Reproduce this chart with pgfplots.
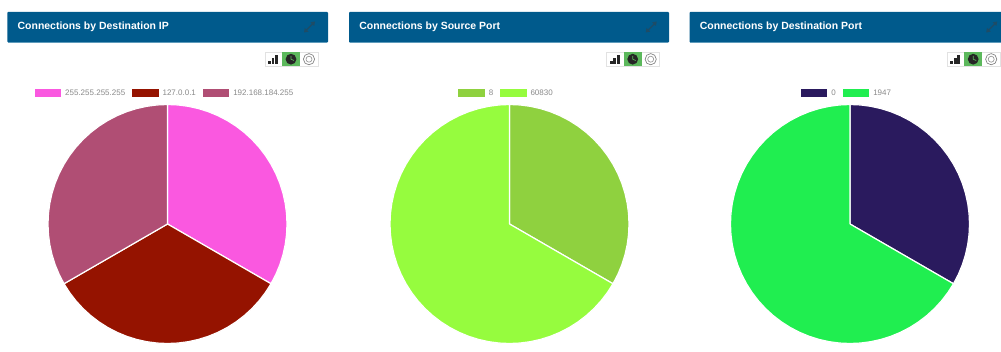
\documentclass[border=0pt]{standalone}
\usepackage{fontspec}
\setmainfont{Liberation Sans}
\usepackage{pgfplots}
\usepackage{pgfplotstable}
\pgfplotsset{compat=1.18}

\definecolor{header}{HTML}{005A8C}
\definecolor{headeredge}{HTML}{5E9BBB}
\definecolor{expandicon}{HTML}{1E4C66}
\definecolor{legendtext}{HTML}{8A8A8A}
\definecolor{btnborder}{HTML}{E2E2E2}
\definecolor{btngreen}{HTML}{5CB85C}
\definecolor{pink}{HTML}{FA58E0}
\definecolor{brick}{HTML}{951300}
\definecolor{mauve}{HTML}{B04E74}
\definecolor{leaf}{HTML}{8FD13F}
\definecolor{lime}{HTML}{96FC3E}
\definecolor{navy}{HTML}{2A1A5E}
\definecolor{neon}{HTML}{20EE50}

% Pie outlines in polar form: angle in degrees, radius as a fraction of the pie
\pgfplotstableread[row sep=\\]{
a r\\ 0 0\\ 90 1\\ 85 1\\ 80 1\\ 75 1\\ 70 1\\ 65 1\\ 60 1\\ 55 1\\ 50 1\\ 45 1\\ 40 1\\ 35 1\\ 30 1\\ 25 1\\ 20 1\\ 15 1\\ 10 1\\ 5 1\\ 0 1\\ -5 1\\ -10 1\\ -15 1\\ -20 1\\ -25 1\\ -30 1\\ 0 0\\
}\firstthird
\pgfplotstableread[row sep=\\]{
a r\\ 0 0\\ -30 1\\ -35 1\\ -40 1\\ -45 1\\ -50 1\\ -55 1\\ -60 1\\ -65 1\\ -70 1\\ -75 1\\ -80 1\\ -85 1\\ -90 1\\ -95 1\\ -100 1\\ -105 1\\ -110 1\\ -115 1\\ -120 1\\ -125 1\\ -130 1\\ -135 1\\ -140 1\\ -145 1\\ -150 1\\ 0 0\\
}\secondthird
\pgfplotstableread[row sep=\\]{
a r\\ 0 0\\ -150 1\\ -155 1\\ -160 1\\ -165 1\\ -170 1\\ -175 1\\ -180 1\\ -185 1\\ -190 1\\ -195 1\\ -200 1\\ -205 1\\ -210 1\\ -215 1\\ -220 1\\ -225 1\\ -230 1\\ -235 1\\ -240 1\\ -245 1\\ -250 1\\ -255 1\\ -260 1\\ -265 1\\ -270 1\\ 0 0\\
}\lastthird
\pgfplotstableread[row sep=\\]{
a r\\ 0 0\\ -30 1\\ -35 1\\ -40 1\\ -45 1\\ -50 1\\ -55 1\\ -60 1\\ -65 1\\ -70 1\\ -75 1\\ -80 1\\ -85 1\\ -90 1\\ -95 1\\ -100 1\\ -105 1\\ -110 1\\ -115 1\\ -120 1\\ -125 1\\ -130 1\\ -135 1\\ -140 1\\ -145 1\\ -150 1\\ -155 1\\ -160 1\\ -165 1\\ -170 1\\ -175 1\\ -180 1\\ -185 1\\ -190 1\\ -195 1\\ -200 1\\ -205 1\\ -210 1\\ -215 1\\ -220 1\\ -225 1\\ -230 1\\ -235 1\\ -240 1\\ -245 1\\ -250 1\\ -255 1\\ -260 1\\ -265 1\\ -270 1\\ 0 0\\
}\twothirds

\pgfplotsset{
  pie/.style={
    anchor=center, width=179.25pt, height=179.25pt, scale only axis,
    xmin=-1, xmax=1, ymin=-1, ymax=1, hide axis, clip=false,
    data cs=polar,
    legend columns=-1,
    legend cell align=left,
    legend style={
      draw=none, fill=none, inner sep=0pt, outer sep=0pt, anchor=center,
      font=\fontsize{6pt}{7pt}\selectfont\color{legendtext},
      /tikz/every even column/.append style={column sep=5pt},
      /tikz/every odd column/.append style={column sep=3pt},
      nodes={inner sep=0pt, outer sep=0pt},
    },
    legend image code/.code={\fill[##1,draw=none] (0pt,-3pt) rectangle (20pt,3pt);},
  },
  slice/.style={fill=#1, draw=white, line width=0.9pt, line join=round, mark=none},
}

% Panel header with its title, expand arrow and chart-type buttons
\newcommand{\panel}[3]{%
  \begin{scope}[xshift=#1*0.75pt]
    \fill[header, rounded corners=0.8pt] (7.3,11.8) rectangle (#2,42.6);
    \draw[headeredge, line width=0.5pt] (8,42.5) -- (#2-0.7,42.5);
    \node[anchor=base west, inner sep=0pt, white, font=\fontsize{7.85pt}{10pt}\selectfont\bfseries] at (17.4,29.6) {#3};
    \draw[expandicon, line width=0.9pt] (305,31.5) -- (314,22.5);
    \fill[expandicon] (315,21.5) -- (310.5,22.3) -- (314.2,26) -- cycle;
    \fill[expandicon] (304,32.5) -- (308.5,31.7) -- (304.8,28) -- cycle;
    % button group
    \fill[white] (265,52.5) rectangle (318,66);
    \draw[btnborder, line width=0.4pt] (265,52.5) rectangle (318,66);
    \fill[black!85] (268,60.8) rectangle (270.8,64.3);
    \fill[black!85] (271.6,57.8) rectangle (274.4,64.3);
    \fill[black!85] (275,54.8) rectangle (278,64.3);
    \fill[btngreen] (282,52.5) rectangle (300,66);
    \fill[black!85] (291,59.2) circle [radius=5.4];
    \draw[btngreen, line width=0.5pt] (291,55.8) -- (291,59.2) -- (294,60.5);
    \draw[black!50, line width=0.5pt] (309,59.2) circle [radius=5.6];
    \draw[black!40, line width=0.5pt] (309,59.2) circle [radius=3];
  \end{scope}%
}

\begin{document}
\begin{tikzpicture}[x=0.75pt, y=-0.75pt]
  \useasboundingbox (0,0) rectangle (1001,352);
  \fill[white] (0,0) rectangle (1001,352);
  \clip (0,0) rectangle (1001,352);

  \panel{0}{328}{Connections by Destination IP}
  \panel{341.7}{327.3}{Connections by Source Port}
  \panel{682.2}{330}{Connections by Destination Port}

  \begin{axis}[pie, at={(125.625pt,-168pt)},
      legend style={at={(0.485,1.047)}}]
    \addplot[slice=pink] table[x=a,y=r] {\firstthird};
    \addlegendentry{255.255.255.255}
    \addplot[slice=brick] table[x=a,y=r] {\secondthird};
    \addlegendentry{127.0.0.1}
    \addplot[slice=mauve] table[x=a,y=r] {\lastthird};
    \addlegendentry{192.168.184.255}
  \end{axis}

  \begin{axis}[pie, at={(382.125pt,-168pt)},
      legend style={at={(0.483,1.047)}}]
    \addplot[slice=leaf] table[x=a,y=r] {\firstthird};
    \addlegendentry{8}
    \addplot[slice=lime] table[x=a,y=r] {\twothirds};
    \addlegendentry{60830}
  \end{axis}

  \begin{axis}[pie, at={(637.5pt,-168pt)},
      legend style={at={(0.483,1.047)}}]
    \addplot[slice=navy] table[x=a,y=r] {\firstthird};
    \addlegendentry{0}
    \addplot[slice=neon] table[x=a,y=r] {\twothirds};
    \addlegendentry{1947}
  \end{axis}
\end{tikzpicture}
\end{document}
